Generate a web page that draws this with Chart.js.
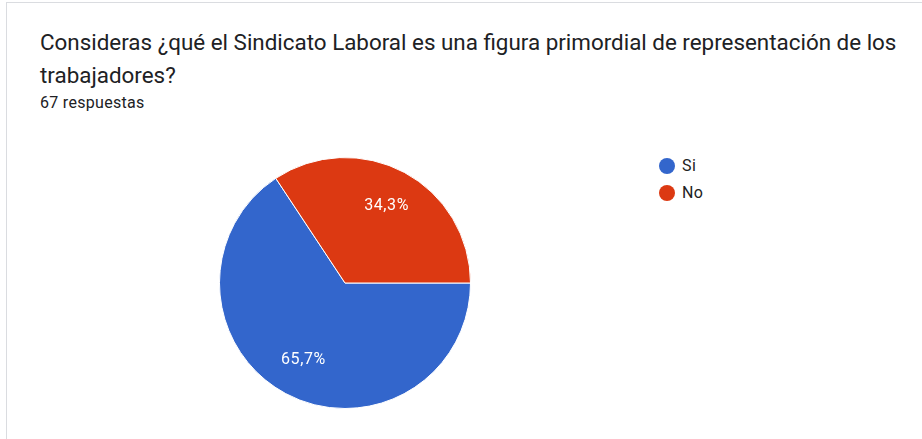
<!DOCTYPE html>
<html>
<head>
<meta charset="utf-8">
<script src="https://cdn.jsdelivr.net/npm/chart.js@4/dist/chart.umd.min.js"></script>
<style>
  html, body { margin: 0; padding: 0; background: #fff; }
  body { width: 922px; height: 439px; position: relative; overflow: hidden; font-family: Roboto, Arial, sans-serif; color: #202124; }
  .card { position: absolute; left: 6px; top: 2px; width: 930px; height: 460px; border-left: 1px solid #dadce0; border-top: 1px solid #dadce0; }
  .title { position: absolute; left: 40px; top: 26px; width: 880px; font-size: 22.4px; line-height: 33px; color: #202124; }
  .count { position: absolute; left: 40px; top: 93px; font-size: 16px; letter-spacing: 0.3px; color: #202124; }
  #chartBox { position: absolute; left: 219px; top: 157px; width: 252px; height: 252px; }
  #legend { position: absolute; left: 659px; top: 155px; font-size: 16px; letter-spacing: 0.4px; color: #222; }
  #legend div { height: 27px; line-height: 22px; }
  #legend span.dot { display: inline-block; width: 16px; height: 16px; border-radius: 50%; vertical-align: -3px; margin-right: 7px; }
</style>
</head>
<body>
<div class="card"></div>
<div class="title">Consideras ¿qué el Sindicato Laboral es una figura primordial de representación de los trabajadores?</div>
<div class="count">67 respuestas</div>
<div id="chartBox"><canvas id="pie"></canvas></div>
<div id="legend"></div>
<script>
const labels = ['Si', 'No'];
const values = [65.7, 34.3];
const pctLabels = ['65,7%', '34,3%'];
const colors = ['#3366cc', '#dc3912'];

// legend in html, like the google forms one
const legend = document.getElementById('legend');
labels.forEach((l, i) => {
    const row = document.createElement('div');
    row.innerHTML = `<span class="dot" style="background:${colors[i]}"></span>${l}`;
    legend.appendChild(row);
});

const sliceText = {
    id: 'sliceText',
    afterDatasetsDraw(chart) {
        const ctx = chart.ctx;
        const meta = chart.getDatasetMeta(0);
        ctx.save();
        ctx.fillStyle = '#fff';
        ctx.font = '16px Roboto, Arial, sans-serif';
        ctx.letterSpacing = '0.6px';
        ctx.textAlign = 'center';
        ctx.textBaseline = 'middle';
        meta.data.forEach((arc, i) => {
            const p = arc.getProps(['x', 'y', 'startAngle', 'endAngle', 'outerRadius'], true);
            const mid = (p.startAngle + p.endAngle) / 2;
            const r = p.outerRadius * 0.7;
            ctx.fillText(pctLabels[i], p.x + Math.cos(mid) * r, p.y + Math.sin(mid) * r);
        });
        ctx.restore();
    }
};

new Chart(document.getElementById('pie'), {
    type: 'pie',
    data: {
        labels: labels,
        datasets: [{
            data: values,
            backgroundColor: colors,
            borderColor: '#fff',
            borderWidth: 1
        }]
    },
    options: {
        responsive: true,
        maintainAspectRatio: false,
        animation: false,
        rotation: 90,
        plugins: {
            legend: { display: false },
            tooltip: { enabled: false }
        }
    },
    plugins: [sliceText]
});
</script>
</body>
</html>
